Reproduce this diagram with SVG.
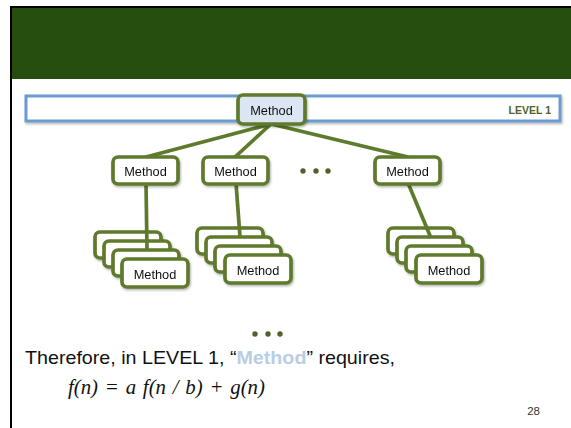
<svg xmlns="http://www.w3.org/2000/svg" width="571" height="428" viewBox="0 0 571 428">
<defs>
<filter id="sh" x="-20%" y="-20%" width="140%" height="150%">
<feDropShadow dx="1" dy="1.5" stdDeviation="1.2" flood-color="#000" flood-opacity="0.3"/>
</filter>
<style>
.node{fill:#ffffff;stroke:#5E7A2C;stroke-width:3.7;}
.lbl{font-family:"Liberation Sans",Arial,sans-serif;font-size:12.8px;fill:#111;text-anchor:middle;}
.con{stroke:#5E7A2C;stroke-width:3.7;fill:none;}
.dot{fill:#4F6228;}
</style>
</defs>
<rect x="0" y="0" width="571" height="428" fill="#ffffff"/>
<rect x="11" y="8" width="560" height="71" fill="#264E0E"/>
<line x1="11" y1="7" x2="571" y2="7" stroke="#000" stroke-width="2"/>
<line x1="11" y1="6" x2="11" y2="428" stroke="#000" stroke-width="2"/>

<g id="level1">
<rect x="26" y="96" width="534" height="25" fill="#ffffff" stroke="#6A9BD1" stroke-width="3" filter="url(#sh)"/>
<text x="551" y="114" font-family="Liberation Sans,Arial,sans-serif" font-size="10.5" font-weight="bold" fill="#4F6228" text-anchor="end">LEVEL 1</text>
</g>

<g id="stack1" filter="url(#sh)">
<rect class="node" x="95" y="232" width="66" height="26" rx="5"/>
<rect class="node" x="104" y="241" width="66" height="26" rx="5"/>
<rect class="node" x="113" y="250" width="66" height="26" rx="5"/>
</g>
<g id="stack2" filter="url(#sh)">
<rect class="node" x="197" y="228" width="66" height="26" rx="5"/>
<rect class="node" x="206" y="237" width="66" height="26" rx="5"/>
<rect class="node" x="215" y="246" width="66" height="26" rx="5"/>
</g>
<g id="stack3" filter="url(#sh)">
<rect class="node" x="388" y="228" width="66" height="26" rx="5"/>
<rect class="node" x="397" y="237" width="66" height="26" rx="5"/>
<rect class="node" x="406" y="246" width="66" height="26" rx="5"/>
</g>

<g id="connectors">
<line class="con" x1="271" y1="124" x2="146" y2="157"/>
<line class="con" x1="271" y1="124" x2="235" y2="157"/>
<line class="con" x1="271" y1="124" x2="408" y2="157"/>
<line class="con" x1="146" y1="183" x2="147" y2="250"/>
<line class="con" x1="236" y1="183" x2="240" y2="237"/>
<line class="con" x1="408" y1="183" x2="431" y2="238"/>
</g>

<g id="root" filter="url(#sh)">
<rect x="238" y="95" width="67" height="29" rx="5" fill="#DCE6F2" stroke="#5E7A2C" stroke-width="3.7"/>
<text class="lbl" x="271.5" y="114.5">Method</text>
</g>
<g id="m1" filter="url(#sh)">
<rect class="node" x="113" y="157" width="65" height="27" rx="5"/>
<text class="lbl" x="145.5" y="175.5">Method</text>
</g>
<g id="m2" filter="url(#sh)">
<rect class="node" x="203" y="157" width="65" height="27" rx="5"/>
<text class="lbl" x="235.5" y="175.5">Method</text>
</g>
<g id="m3" filter="url(#sh)">
<rect class="node" x="375" y="157" width="65" height="27" rx="5"/>
<text class="lbl" x="407.5" y="175.5">Method</text>
</g>
<g id="leaf1" filter="url(#sh)">
<rect class="node" x="122" y="259" width="66" height="28" rx="5"/>
<text class="lbl" x="155" y="278.5">Method</text>
</g>
<g id="leaf2" filter="url(#sh)">
<rect class="node" x="225" y="255" width="66" height="28" rx="5"/>
<text class="lbl" x="258" y="274.5">Method</text>
</g>
<g id="leaf3" filter="url(#sh)">
<rect class="node" x="416" y="255" width="66" height="28" rx="5"/>
<text class="lbl" x="449" y="274.5">Method</text>
</g>

<g id="dots-mid">
<circle class="dot" cx="303" cy="171" r="2.7"/>
<circle class="dot" cx="316" cy="171" r="2.7"/>
<circle class="dot" cx="328" cy="171" r="2.7"/>
</g>
<g id="dots-bottom">
<circle class="dot" cx="255" cy="334" r="2.7"/>
<circle class="dot" cx="268" cy="334" r="2.7"/>
<circle class="dot" cx="280" cy="334" r="2.7"/>
</g>

<text x="25" y="364" font-family="Liberation Sans,Arial,sans-serif" font-size="18.5" fill="#111" textLength="370" lengthAdjust="spacingAndGlyphs">Therefore, in LEVEL 1, “<tspan fill="#B9CDE5" font-weight="bold">Method</tspan>” requires,</text>
<text x="68" y="394" font-family="Liberation Serif,'Times New Roman',serif" font-size="20.8" font-style="italic" fill="#111" word-spacing="1.6">f(n) = a f(n / b) + g(n)</text>
<text x="540" y="415" font-family="Liberation Sans,Arial,sans-serif" font-size="11.5" fill="#333" text-anchor="end">28</text>
</svg>
